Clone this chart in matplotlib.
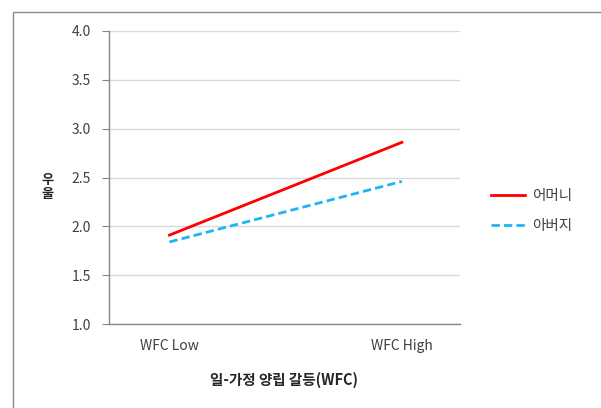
import matplotlib
matplotlib.use("Agg")
import matplotlib.pyplot as plt
from matplotlib.patches import Rectangle

plt.rcParams['font.family'] = ['Noto Sans CJK KR', 'DejaVu Sans']

categories = ["WFC Low", "WFC High"]
mother = [1.91, 2.86]
father = [1.84, 2.46]
series_names = ["어머니", "아버지"]
yticks = [1.0, 1.5, 2.0, 2.5, 3.0, 3.5, 4.0]

W, H = 601, 408
fig = plt.figure(figsize=(W / 100, H / 100), dpi=100)

# outer chart frame
fig.patches.append(Rectangle((13 / W, -0.1), 1.2, 1 - 12 / H + 0.1,
                             transform=fig.transFigure, fill=False,
                             edgecolor='#8c8c8c', linewidth=1.0))

ax = fig.add_axes([109 / W, 1 - 324 / H, (460 - 109) / W, (324 - 31) / H])
x = list(range(len(categories)))
ax.plot(x, mother, color='#ff0000', linewidth=2.0, label=series_names[0])
ax.plot(x, father, color='#1fb5f0', linewidth=2.0, linestyle=(0, (3, 1.5)),
        label=series_names[1])

ax.set_xlim(-0.26, 1.25)
ax.set_ylim(1.0, 4.0)
ax.set_yticks(yticks)
ax.set_yticklabels([f"{v:.1f}" for v in yticks], fontsize=10, color='#404040')
ax.set_xticks(x)
ax.set_xticklabels(categories, fontsize=10, color='#404040')
ax.tick_params(axis='x', length=0, pad=11)
ax.tick_params(axis='y', length=5, color='#868686', pad=8, direction='out')

ax.grid(axis='y', color='#d9d9d9', linewidth=1.0)
ax.set_axisbelow(True)
for s in ['top', 'right']:
    ax.spines[s].set_visible(False)
for s in ['left', 'bottom']:
    ax.spines[s].set_color('#868686')
    ax.spines[s].set_linewidth(1.0)

fig.text(284 / W, 1 - 380 / H, "일-가정 양립 갈등(WFC)", ha='center', va='center',
         fontsize=10.5, fontweight='bold', color='#262626')
fig.text(48 / W, 1 - 187 / H, "우\n울", ha='center', va='center',
         fontsize=9.5, fontweight='bold', color='#262626', linespacing=1.0)

leg = fig.legend(loc='center left', bbox_to_anchor=(478 / W, 1 - 211 / H),
                 frameon=False, fontsize=10.5, handlelength=2.3,
                 handletextpad=0.5, labelspacing=1.1, labelcolor='#404040')

fig.savefig("out.png", dpi=100)
